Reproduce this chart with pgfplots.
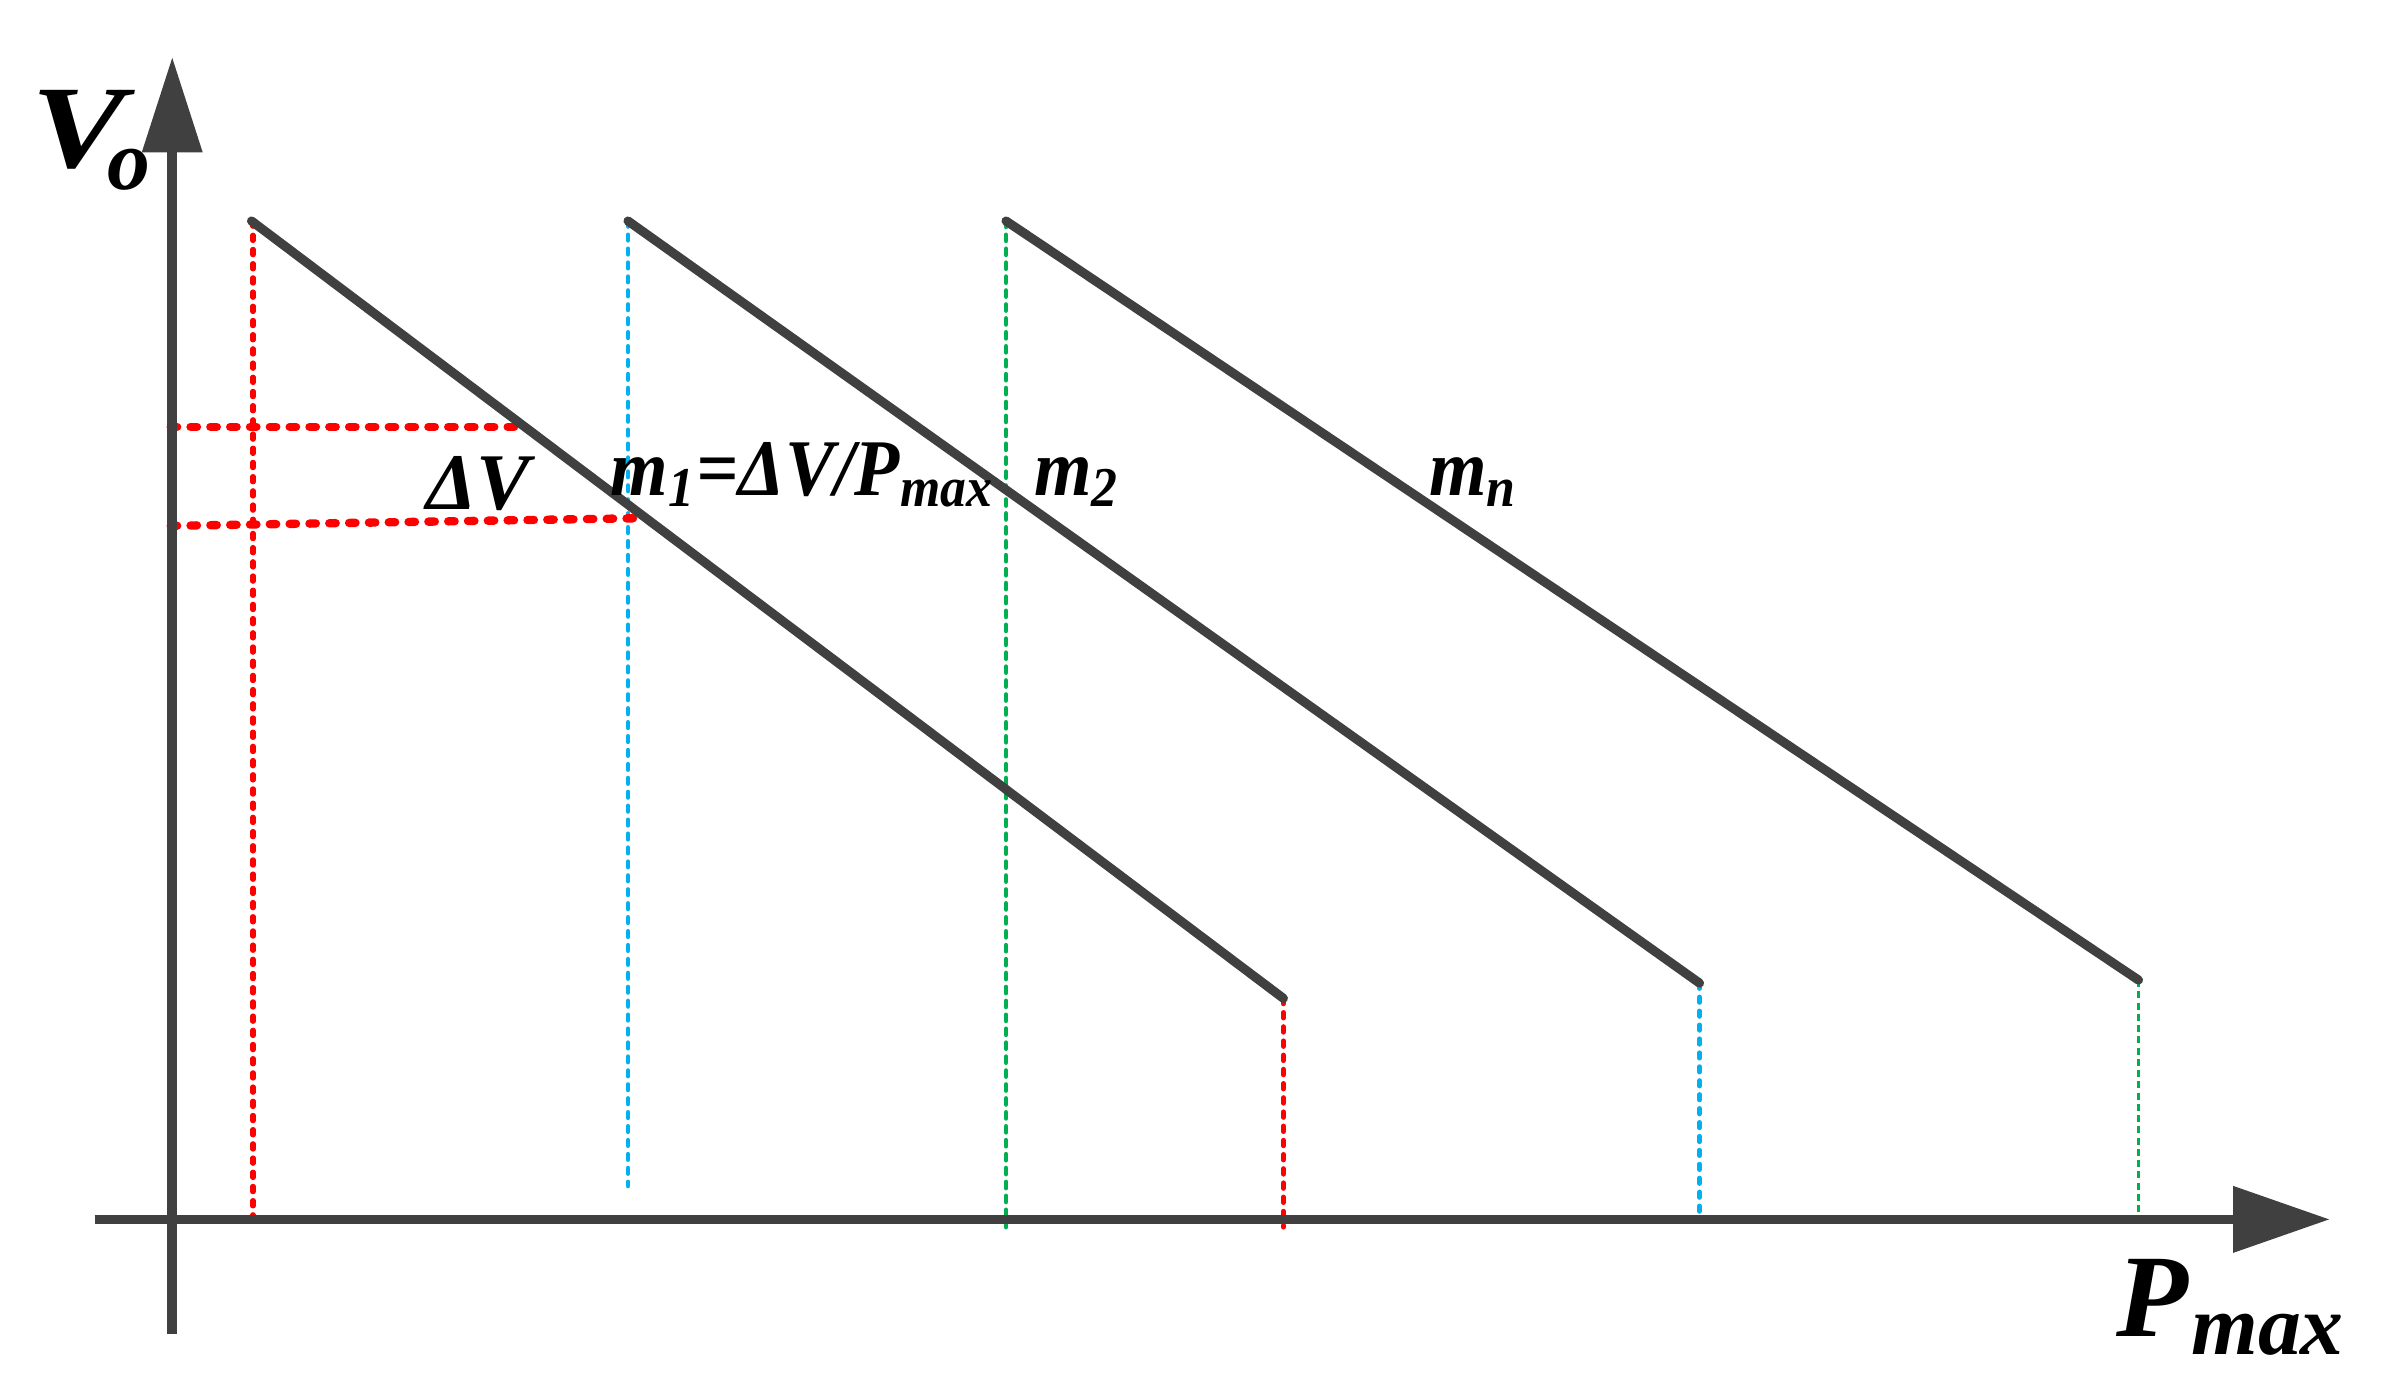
\documentclass[border=0pt]{standalone}
\usepackage{fontspec}
\setmainfont{Liberation Serif}
\usepackage{pgfplots}
\pgfplotsset{compat=1.18}
\definecolor{axgray}{HTML}{404040}
\definecolor{myred}{HTML}{FF0000}
\definecolor{myblue}{HTML}{00B0F0}
\definecolor{mygreen}{HTML}{00B050}
\begin{document}
\begin{tikzpicture}
\begin{axis}[
  scale only axis, width=15.68cm, height=9.12cm,
  xmin=0, xmax=1568, ymin=0, ymax=912,
  hide axis, clip=false,
]
% bounding frame (invisible)
\addplot[draw=none, forget plot] coordinates {(0,0) (1568,912)};
% vertical guide lines
\addplot[myred, line width=0.95pt, line cap=round, dash pattern=on 1pt off 1.65pt] coordinates {(166,767) (166,107)};
\addplot[myblue, line width=0.9pt, line cap=round, dash pattern=on 1pt off 1.6pt] coordinates {(412,767) (412,134)};
\addplot[mygreen, line width=0.9pt, line cap=round, dash pattern=on 1.1pt off 1.5pt] coordinates {(660,767) (660,107)};
\addplot[myred, line width=0.95pt, line cap=round, dash pattern=on 1pt off 1.65pt] coordinates {(842,257) (842,107)};
\addplot[myblue, line width=0.9pt, line cap=round, dash pattern=on 1pt off 1.6pt] coordinates {(1115,267) (1115,112)};
\addplot[mygreen, line width=0.5pt, dash pattern=on 1.3pt off 0.8pt] coordinates {(1403,269) (1403,112)};
% horizontal red dotted lines
\addplot[myred, line width=1.56pt, line cap=round, dash pattern=on 1.2pt off 2.5pt] coordinates {(112,632) (342,632)};
\addplot[myred, line width=1.56pt, line cap=round, dash pattern=on 1.2pt off 2.5pt] coordinates {(112,567) (419,572)};
% axes
\addplot[axgray, line width=1.8pt] coordinates {(113,37) (113,815)};
\addplot[axgray, line width=1.8pt] coordinates {(62,112) (1468,112)};
\addplot[fill=axgray, draw=none] coordinates {(93,812) (133,812) (113,874)} -- cycle;
\addplot[fill=axgray, draw=none] coordinates {(1465,134) (1465,90) (1528,112)} -- cycle;
% droop lines
\addplot[axgray, line width=1.7pt, line cap=round] coordinates {(165,767) (842,257)};
\addplot[axgray, line width=1.7pt, line cap=round] coordinates {(412,767) (1115,267)};
\addplot[axgray, line width=1.7pt, line cap=round] coordinates {(660,767) (1403,269)};
% labels
\node[anchor=base west, inner sep=0pt, font=\bfseries\itshape] at (axis cs:20,802)
  {\fontsize{22}{24}\selectfont\scalebox{1.2}[1]{V}\kern-3.5pt\raisebox{-4pt}{\fontsize{16}{17}\selectfont o}};
\node[anchor=base west, inner sep=0pt, font=\bfseries\itshape] at (axis cs:1388,35)
  {\fontsize{22}{24}\selectfont P\kern0.5pt\raisebox{-3.4pt}{\fontsize{16}{17}\selectfont max}};
\node[anchor=base west, inner sep=0pt, font=\fontsize{15}{18}\selectfont\bfseries\itshape] at (axis cs:279,578) {ΔV};
\node[anchor=base west, inner sep=0pt, xscale=0.92, font=\fontsize{15}{18}\selectfont\bfseries\itshape] at (axis cs:400,587) {m\textsubscript{1}=ΔV/P\textsubscript{max}};
\node[anchor=base west, inner sep=0pt, xscale=0.92, font=\fontsize{15}{18}\selectfont\bfseries\itshape] at (axis cs:678,587) {m\textsubscript{2}};
\node[anchor=base west, inner sep=0pt, xscale=0.92, font=\fontsize{15}{18}\selectfont\bfseries\itshape] at (axis cs:937,587) {m\textsubscript{n}};
\end{axis}
\end{tikzpicture}
\end{document}
